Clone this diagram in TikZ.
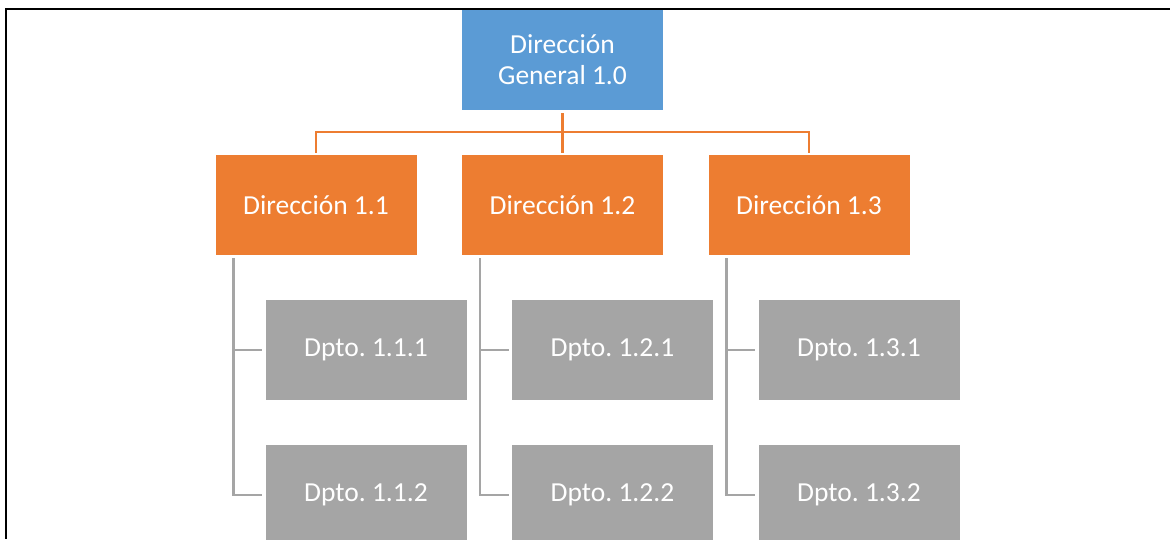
\documentclass[tikz,border=0pt]{standalone}
\usepackage{fontspec}
\setmainfont{Carlito}
\frenchspacing
\usetikzlibrary{trees}

\definecolor{general}{HTML}{5B9BD5}
\definecolor{direccion}{HTML}{ED7D31}
\definecolor{dpto}{HTML}{A5A5A5}

\begin{document}
\begin{tikzpicture}[x=1pt,y=1pt, level distance=145pt,
      every node/.append style={minimum width=201pt,minimum height=100pt,inner sep=0pt,
        text=white,align=center,font=\fontsize{27.5}{31}\selectfont},
      level 1/.style={sibling distance=246.5pt,
        edge from parent/.style={draw=direccion,line width=2.5pt},
        edge from parent path={([yshift=-3pt]\tikzparentnode.south) -- ++(0,-19pt) -| ([yshift=2pt]\tikzchildnode.north)}},
      level 2/.style={grow via three points={one child at (50pt,-145pt) and two children at (50pt,-145pt) and (50pt,-290pt)},
        edge from parent/.style={draw=dpto,line width=2.5pt},
        edge from parent path={([xshift=18pt,yshift=-3pt]\tikzparentnode.south west) |- ([xshift=-3pt]\tikzchildnode.west)}}]
    \useasboundingbox (0,0) rectangle (1170,539);
    \draw[line width=2pt] (1170,529.5) -| (5.5,0);
    \node (DG) [fill=general] at (562.5,479) {Dirección\\General 1.0}
      child {node (D11) [fill=direccion] {Dirección 1.1}
      {
        child {node (D111) [fill=dpto] {Dpto. 1.1.1}}
        child {node (D112) [fill=dpto] {Dpto. 1.1.2}}
      }}
      child {node (D12) [fill=direccion] {Dirección 1.2}
      {
        child {node (D121) [fill=dpto] {Dpto. 1.2.1}}
        child {node (D122) [fill=dpto] {Dpto. 1.2.2}}
      }}
      child {node (D13) [fill=direccion] {Dirección 1.3}
      {
        child {node (D131) [fill=dpto] {Dpto. 1.3.1}}
        child {node (D132) [fill=dpto] {Dpto. 1.3.2}}
      }}
      ;
  \end{tikzpicture}
\end{document}
